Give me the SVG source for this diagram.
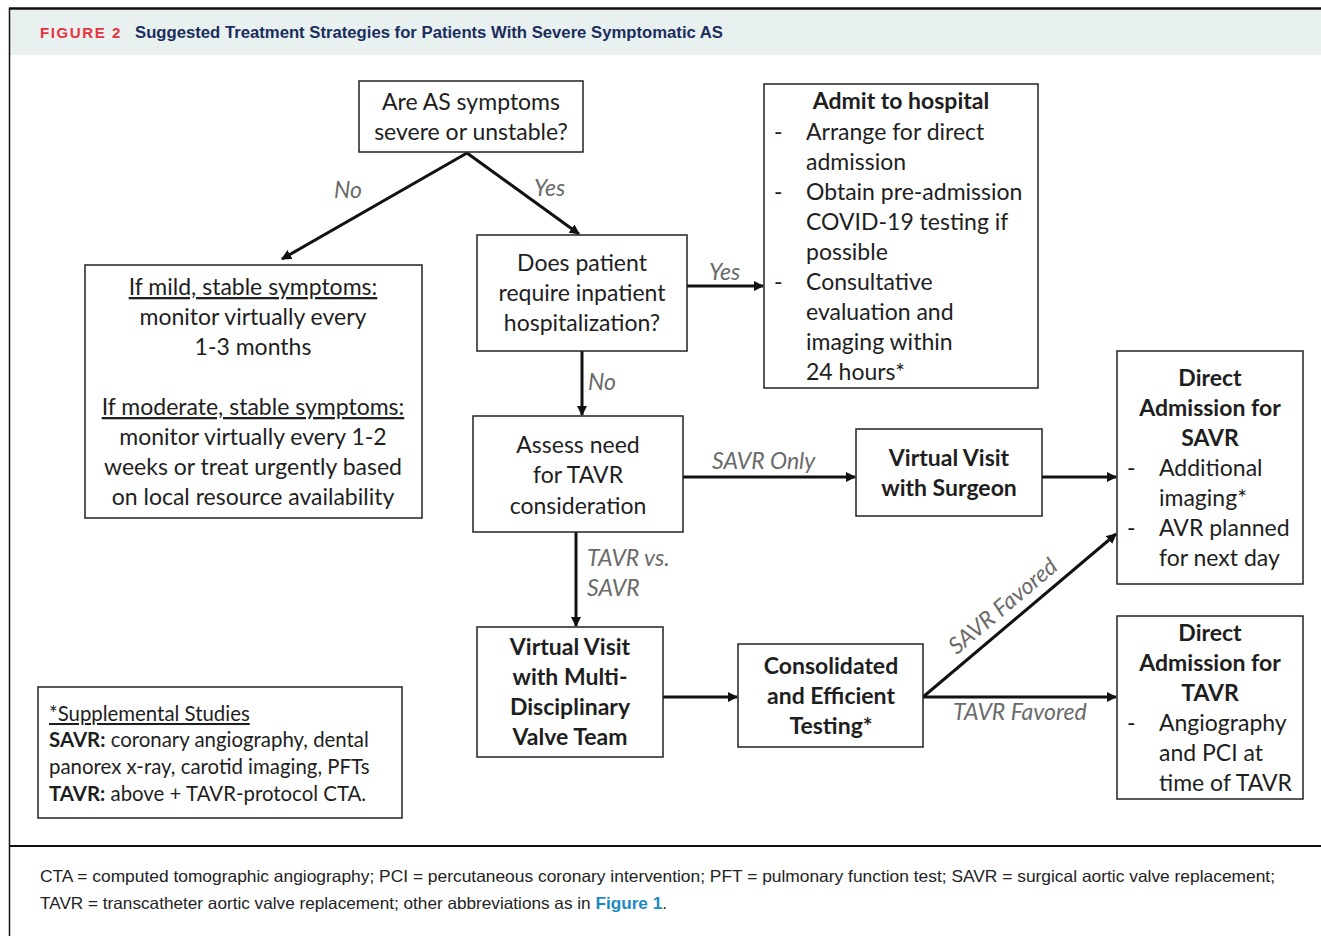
<svg xmlns="http://www.w3.org/2000/svg" width="1321" height="936" viewBox="0 0 1321 936">
<style>
.box{fill:#fff;stroke:#222;stroke-width:1.5}
.t{font-family:Lato,"Open Sans",sans-serif;font-size:23px;fill:#1e1e1e}
.s{font-size:20.4px}
.c{text-anchor:middle}
.b{font-weight:bold}
.u{text-decoration:underline}
.lbl{font-family:Lato,"Open Sans",sans-serif;font-size:23px;font-style:italic;fill:#6a6a6a}
.conn{stroke:#111;stroke-width:3;fill:none}
.foot{font-family:"Liberation Sans Narrow","Liberation Sans",sans-serif;font-size:16.5px;fill:#222}
</style>
<defs>
<marker id="ah" viewBox="0 0 10 10" refX="9" refY="5" markerWidth="3.4" markerHeight="3.4" orient="auto" markerUnits="strokeWidth">
<path d="M0,0 L10,5 L0,10 z" fill="#111"/>
</marker>
</defs>
<rect x="0" y="0" width="1321" height="936" fill="#fff"/>
<g id="frame">
<rect x="10" y="9" width="1311" height="46" fill="#e8f1f0"/>
<line x1="9" y1="8.5" x2="1321" y2="8.5" stroke="#111" stroke-width="2.5"/>
<line x1="9.5" y1="8" x2="9.5" y2="936" stroke="#111" stroke-width="1.5"/>
<line x1="9" y1="846" x2="1321" y2="846" stroke="#111" stroke-width="2"/>
<text x="40" y="38" font-family="'Liberation Sans',sans-serif" font-size="14.5" font-weight="bold" fill="#e63340" letter-spacing="1.5" textLength="82" lengthAdjust="spacingAndGlyphs">FIGURE 2</text>
<text x="135" y="38" font-family="'Liberation Sans',sans-serif" font-size="16" font-weight="bold" fill="#1b2d5c" textLength="588" lengthAdjust="spacingAndGlyphs">Suggested Treatment Strategies for Patients With Severe Symptomatic AS</text>
<text class="foot" x="40" y="882" textLength="1235" lengthAdjust="spacingAndGlyphs">CTA = computed tomographic angiography; PCI = percutaneous coronary intervention; PFT = pulmonary function test; SAVR = surgical aortic valve replacement;</text>
<text class="foot" x="40" y="909" textLength="627" lengthAdjust="spacingAndGlyphs">TAVR = transcatheter aortic valve replacement; other abbreviations as in <tspan fill="#1a8ac0" font-weight="bold">Figure 1</tspan>.</text>
</g>
<g id="connectors">
<line class="conn" x1="467" y1="153" x2="282" y2="259" marker-end="url(#ah)"/>
<line class="conn" x1="467" y1="153" x2="579" y2="234" marker-end="url(#ah)"/>
<line class="conn" x1="687" y1="286" x2="763" y2="286" marker-end="url(#ah)"/>
<line class="conn" x1="582" y1="351" x2="582" y2="415" marker-end="url(#ah)"/>
<line class="conn" x1="683" y1="477" x2="855" y2="477" marker-end="url(#ah)"/>
<line class="conn" x1="1042" y1="477" x2="1116" y2="477" marker-end="url(#ah)"/>
<line class="conn" x1="576" y1="532" x2="576" y2="626" marker-end="url(#ah)"/>
<line class="conn" x1="663" y1="697" x2="737" y2="697" marker-end="url(#ah)"/>
<line class="conn" x1="923" y1="697" x2="1116" y2="697" marker-end="url(#ah)"/>
<line class="conn" x1="923" y1="697" x2="1116" y2="534" marker-end="url(#ah)"/>
<text class="lbl" x="334" y="198">No</text>
<text class="lbl" x="534" y="196">Yes</text>
<text class="lbl" x="709" y="280">Yes</text>
<text class="lbl" x="588" y="390">No</text>
<text class="lbl" x="712" y="469">SAVR Only</text>
<text class="lbl" x="587" y="566">TAVR vs.</text>
<text class="lbl" x="587" y="596">SAVR</text>
<text class="lbl" x="953" y="720">TAVR Favored</text>
<text class="lbl c" transform="translate(1008,612) rotate(-40.2)">SAVR Favored</text>
</g>
<g id="q1">
<rect class="box" x="359" y="81" width="224" height="71"/>
<text class="t c" x="471" y="110">Are AS symptoms</text>
<text class="t c" x="471" y="140">severe or unstable?</text>
</g>
<g id="monitor">
<rect class="box" x="85" y="265" width="337" height="253"/>
<text class="t c u" x="253" y="295">If mild, stable symptoms:</text>
<text class="t c" x="253" y="325">monitor virtually every</text>
<text class="t c" x="253" y="355">1-3 months</text>
<text class="t c u" x="253" y="415">If moderate, stable symptoms:</text>
<text class="t c" x="253" y="445">monitor virtually every 1-2</text>
<text class="t c" x="253" y="475">weeks or treat urgently based</text>
<text class="t c" x="253" y="505">on local resource availability</text>
</g>
<g id="q2">
<rect class="box" x="477" y="235" width="210" height="116"/>
<text class="t c" x="582" y="271">Does patient</text>
<text class="t c" x="582" y="301">require inpatient</text>
<text class="t c" x="582" y="331">hospitalization?</text>
</g>
<g id="admit">
<rect class="box" x="764" y="84" width="274" height="304"/>
<text class="t c b" x="901" y="109">Admit to hospital</text>
<text class="t" x="774" y="140">-</text>
<text class="t" x="806" y="140">Arrange for direct</text>
<text class="t" x="806" y="170">admission</text>
<text class="t" x="774" y="200">-</text>
<text class="t" x="806" y="200">Obtain pre-admission</text>
<text class="t" x="806" y="230">COVID-19 testing if</text>
<text class="t" x="806" y="260">possible</text>
<text class="t" x="774" y="290">-</text>
<text class="t" x="806" y="290">Consultative</text>
<text class="t" x="806" y="320">evaluation and</text>
<text class="t" x="806" y="350">imaging within</text>
<text class="t" x="806" y="380">24 hours*</text>
</g>
<g id="assess">
<rect class="box" x="473" y="416" width="210" height="116"/>
<text class="t c" x="578" y="453">Assess need</text>
<text class="t c" x="578" y="483">for TAVR</text>
<text class="t c" x="578" y="514">consideration</text>
</g>
<g id="surgeon">
<rect class="box" x="856" y="429" width="186" height="87"/>
<text class="t c b" x="949" y="466">Virtual Visit</text>
<text class="t c b" x="949" y="496">with Surgeon</text>
</g>
<g id="savr">
<rect class="box" x="1117" y="351" width="186" height="233"/>
<text class="t c b" x="1210" y="386">Direct</text>
<text class="t c b" x="1210" y="416">Admission for</text>
<text class="t c b" x="1210" y="446">SAVR</text>
<text class="t" x="1127" y="476">-</text>
<text class="t" x="1159" y="476">Additional</text>
<text class="t" x="1159" y="506">imaging*</text>
<text class="t" x="1127" y="536">-</text>
<text class="t" x="1159" y="536">AVR planned</text>
<text class="t" x="1159" y="566">for next day</text>
</g>
<g id="mdt">
<rect class="box" x="477" y="627" width="186" height="130"/>
<text class="t c b" x="570" y="655">Virtual Visit</text>
<text class="t c b" x="570" y="685">with Multi-</text>
<text class="t c b" x="570" y="715">Disciplinary</text>
<text class="t c b" x="570" y="745">Valve Team</text>
</g>
<g id="testing">
<rect class="box" x="738" y="644" width="185" height="103"/>
<text class="t c b" x="831" y="674">Consolidated</text>
<text class="t c b" x="831" y="704">and Efficient</text>
<text class="t c b" x="831" y="734">Testing*</text>
</g>
<g id="tavr">
<rect class="box" x="1117" y="616" width="186" height="183"/>
<text class="t c b" x="1210" y="641">Direct</text>
<text class="t c b" x="1210" y="671">Admission for</text>
<text class="t c b" x="1210" y="701">TAVR</text>
<text class="t" x="1127" y="731">-</text>
<text class="t" x="1159" y="731">Angiography</text>
<text class="t" x="1159" y="761">and PCI at</text>
<text class="t" x="1159" y="791">time of TAVR</text>
</g>
<g id="supplemental">
<rect class="box" x="38" y="687" width="364" height="131"/>
<text class="t s u" x="49" y="721">*Supplemental Studies</text>
<text class="t s" x="49" y="747"><tspan class="b">SAVR:</tspan> coronary angiography, dental</text>
<text class="t s" x="49" y="774">panorex x-ray, carotid imaging, PFTs</text>
<text class="t s" x="49" y="801"><tspan class="b">TAVR:</tspan> above + TAVR-protocol CTA.</text>
</g>
</svg>
